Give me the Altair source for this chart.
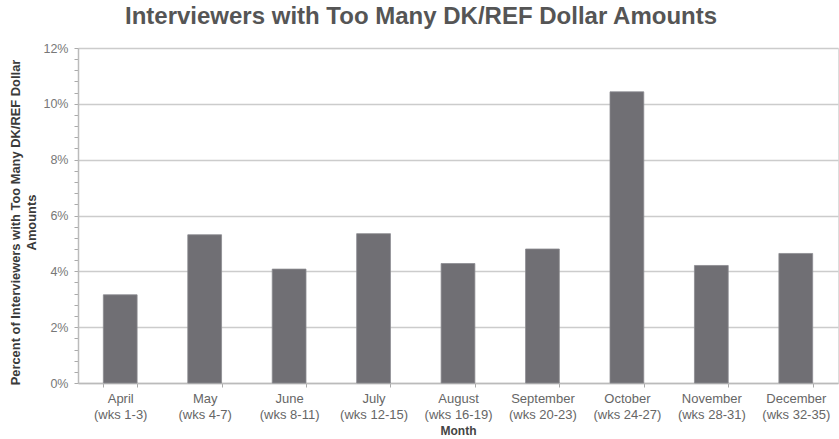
import altair as alt
import pandas as pd

months = ["April", "May", "June", "July", "August", "September", "October", "November", "December"]
weeks = ["(wks 1-3)", "(wks 4-7)", "(wks 8-11)", "(wks 12-15)", "(wks 16-19)",
         "(wks 20-23)", "(wks 24-27)", "(wks 28-31)", "(wks 32-35)"]
percent = [3.16, 5.31, 4.08, 5.35, 4.28, 4.80, 10.43, 4.21, 4.64]

labels = [f"{m}|{w}" for m, w in zip(months, weeks)]
df = pd.DataFrame({"label": labels, "percent": percent})

y_ticks = [round(i * 0.4, 1) for i in range(31)]
major_test = "abs(datum.value / 2 - round(datum.value / 2)) < 0.01"

FONT = "Liberation Sans"

chart = alt.Chart(df).mark_bar(color="#706f74", stroke="#8c8b90", strokeWidth=0.8).encode(
    x=alt.X("label:N", sort=labels,
            scale=alt.Scale(paddingInner=0.6, paddingOuter=0.3),
            axis=alt.Axis(
                title="Month",
                titleFont=FONT, titleFontSize=12, titleFontWeight="bold", titleColor="#444444",
                titlePadding=4,
                labelExpr="isValid(datum.value) ? split(datum.value, '|') : ''",
                labelFont=FONT, labelFontSize=13, labelColor="#666666",
                labelLineHeight=16, labelPadding=5, labelAngle=0,
                tickBand="extent", tickSize=4, tickColor="#aaaaaa",
                domainColor="#bbbbbb", domainWidth=1.5, grid=False,
            )),
    y=alt.Y("percent:Q",
            scale=alt.Scale(domain=[0, 12], nice=False),
            axis=alt.Axis(
                title=["Percent of Interviewers with Too Many DK/REF Dollar", "Amounts"],
                titleFont=FONT, titleFontSize=12.9, titleFontWeight="bold", titleColor="#3a3a3a",
                titleLineHeight=16, titleAngle=-90, titleAlign="center", titleBaseline="top",
                titleX=-69, titleY=174,
                values=y_ticks,
                labelExpr=f"{major_test} ? format(datum.value, 'd') + '%' : ''",
                labelFont=FONT, labelFontSize=12.5, labelColor="#777777", labelPadding=6,
                tickSize=4, tickColor="#aaaaaa",
                domainColor="#bbbbbb", domainWidth=1.5,
                grid=True, gridColor="#cccccc", gridWidth=1.5,
                gridOpacity={"condition": {"test": major_test, "value": 1}, "value": 0},
            )),
).properties(
    width=760,
    height=335,
    title=alt.TitleParams(
        "Interviewers with Too Many DK/REF Dollar Amounts",
        font=FONT, fontSize=24, fontWeight="bold", color="#555555",
        anchor="middle", frame="group", baseline="bottom", offset=17, dx=-37, dy=28,
    ),
    padding={"left": 78, "top": 48, "right": 1, "bottom": 56},
    autosize=alt.AutoSizeParams(type="none"),
).configure_view(stroke=None).configure(background="white")

chart.save("out.html", embed_options={"renderer": "svg", "actions": False})
